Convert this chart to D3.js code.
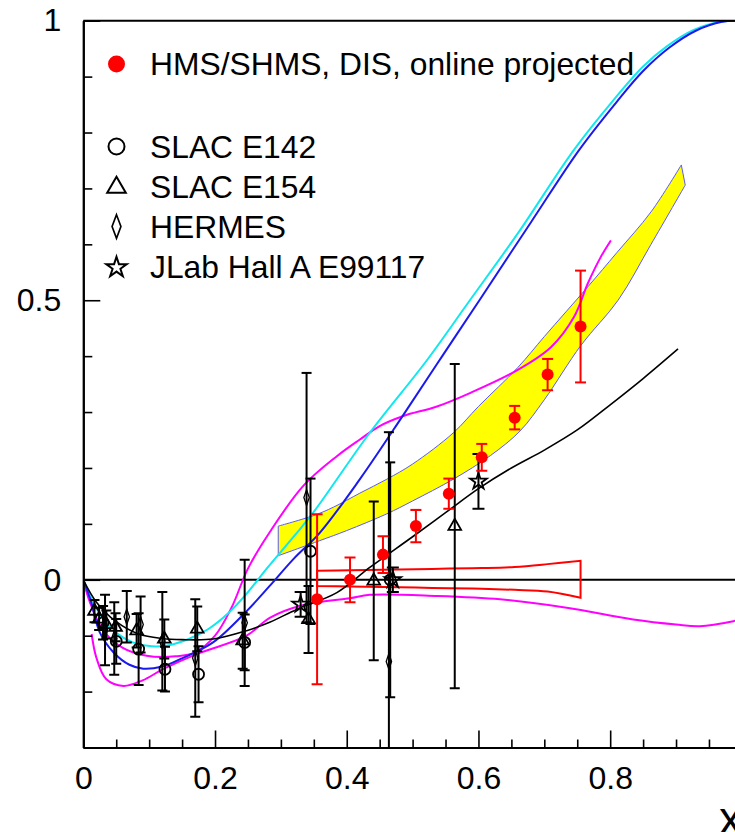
<!DOCTYPE html>
<html><head><meta charset="utf-8">
<script src="https://cdn.jsdelivr.net/npm/d3@7"></script>
<style>body{margin:0;background:#fff;overflow:hidden}svg{display:block}</style>
</head><body>
<svg id="c" width="735" height="832"></svg>
<script>
// ---------- data ----------
const xMajorTicks = [0, 0.2, 0.4, 0.6, 0.8];
const xMinorTicks = [0.05,0.1,0.15,0.25,0.3,0.35,0.45,0.5,0.55,0.65,0.7,0.75,0.85,0.9,0.95];
const yMajorTicks = [0, 0.5, 1];
const yMinorTicks = [-0.3,-0.2,-0.1,0.1,0.2,0.3,0.4,0.6,0.7,0.8,0.9];

// HMS/SHMS projected (red)
const redX   = [0.355,0.405,0.455,0.505,0.555,0.605,0.655,0.705,0.755];
const redY   = [-0.035,0.0,0.045,0.096,0.154,0.219,0.29,0.367,0.453];
const redErr = [0.152,0.04,0.033,0.029,0.027,0.024,0.021,0.028,0.1];
// systematic wedge around zero
const wedgeUp = [0.016,0.017,0.018,0.019,0.02,0.021,0.023,0.028,0.034];
const wedgeLo = [-0.011,-0.012,-0.013,-0.014,-0.015,-0.016,-0.018,-0.021,-0.032];

// SLAC E142 (open circles) [x, y, err]
const e142 = [[0.03,-0.077,0.03],[0.05,-0.11,0.04],[0.084,-0.124,0.064],[0.124,-0.16,0.04],
              [0.175,-0.169,0.05],[0.245,-0.112,0.05],[0.345,0.051,0.13],[0.466,0.0,0.21]];
// SLAC E154 (open triangles)
const e154 = [[0.017,-0.056,0.02],[0.024,-0.07,0.02],[0.035,-0.08,0.025],[0.049,-0.085,0.025],
              [0.081,-0.091,0.03],[0.123,-0.106,0.035],[0.173,-0.088,0.04],[0.242,-0.109,0.05],
              [0.342,-0.071,0.06],[0.441,-0.002,0.142],[0.564,0.096,0.29]];
// HERMES (open diamonds)
const hermes = [[0.033,-0.09,0.063],[0.047,-0.105,0.065],[0.066,-0.066,0.046],[0.087,-0.08,0.05],
                [0.12,-0.11,0.088],[0.17,-0.14,0.105],[0.245,-0.077,0.113],[0.339,0.147,0.223],[0.464,-0.146,0.41]];
// JLab Hall A E99117 (open stars)
const jlab = [[0.33,-0.044,0.022],[0.47,0.0,0.022],[0.6,0.176,0.049]];

// model curves [x, y]
const curveCyan = [[0,0],[0.015,-0.04],[0.03,-0.07],[0.05,-0.095],[0.075,-0.112],[0.104,-0.119],[0.13,-0.117],
  [0.16,-0.106],[0.19,-0.088],[0.22,-0.06],[0.25,-0.022],[0.28,0.022],[0.32,0.078],[0.349,0.12],[0.435,0.263],
  [0.52,0.39],[0.587,0.5],[0.66,0.62],[0.745,0.769],[0.805,0.858],[0.85,0.918],[0.886,0.954],[0.926,0.983],
  [0.967,0.998],[1.0,1.0]];
const curveBlue = [[0,0],[0.012,-0.04],[0.025,-0.094],[0.046,-0.13],[0.07,-0.152],[0.091,-0.159],[0.12,-0.155],
  [0.147,-0.142],[0.197,-0.112],[0.248,-0.056],[0.283,-0.011],[0.319,0.037],[0.359,0.084],[0.42,0.18],
  [0.486,0.295],[0.545,0.4],[0.602,0.501],[0.68,0.64],[0.753,0.769],[0.81,0.855],[0.85,0.91],[0.89,0.952],
  [0.93,0.982],[0.97,0.998],[1,1]];
const curveMagentaUp = [[0,0],[0.01,-0.04],[0.03,-0.09],[0.06,-0.122],[0.096,-0.136],[0.14,-0.137],[0.17,-0.13],
  [0.2,-0.1],[0.225,-0.05],[0.25,0.02],[0.283,0.085],[0.334,0.168],[0.385,0.221],[0.42,0.251],[0.45,0.275],
  [0.486,0.293],[0.537,0.31],[0.587,0.334],[0.659,0.375],[0.71,0.416],[0.745,0.47],[0.766,0.53],[0.786,0.578],[0.801,0.607]];
const curveMagentaLow = [[0.0127,-0.097],[0.02,-0.14],[0.035,-0.178],[0.061,-0.19],[0.09,-0.18],[0.121,-0.16],
  [0.172,-0.133],[0.248,-0.1],[0.283,-0.068],[0.334,-0.045],[0.405,-0.033],[0.435,-0.027],[0.537,-0.029],
  [0.633,-0.035],[0.734,-0.05],[0.835,-0.071],[0.9,-0.08],[0.936,-0.083],[0.987,-0.074],[1.0,-0.07]];
const curveBlack = [[0,0],[0.02,-0.04],[0.05,-0.075],[0.084,-0.097],[0.12,-0.105],[0.15,-0.107],[0.197,-0.106],
  [0.248,-0.091],[0.283,-0.076],[0.324,-0.053],[0.385,-0.023],[0.435,0.022],[0.5,0.077],[0.55,0.12],[0.6,0.163],
  [0.65,0.2],[0.7,0.232],[0.75,0.268],[0.8,0.313],[0.85,0.36],[0.903,0.413]];
// yellow band
const bandUpper = [[0.296,0.096],[0.35,0.115],[0.38,0.13],[0.42,0.155],[0.461,0.18],[0.5,0.207],[0.562,0.263],
  [0.6,0.31],[0.66,0.38],[0.7,0.435],[0.766,0.524],[0.81,0.585],[0.862,0.658],[0.908,0.742]];
const bandLower = [[0.296,0.043],[0.359,0.07],[0.4,0.088],[0.461,0.118],[0.5,0.141],[0.562,0.18],[0.618,0.222],
  [0.663,0.266],[0.7,0.322],[0.756,0.42],[0.812,0.5],[0.862,0.6],[0.914,0.706]];

const legendLabels = ["HMS/SHMS, DIS, online projected","SLAC E142","SLAC E154","HERMES","JLab Hall A E99117"];

// ---------- drawing ----------
const FONT = "'Liberation Sans', Arial, Helvetica, sans-serif";
const x = d3.scaleLinear().domain([0,1]).range([83.3,741.9]);
const y = d3.scaleLinear().domain([-0.3,1]).range([747.5,20.7]);
const svg = d3.select('#c');

svg.append('defs').append('clipPath').attr('id','plot')
  .append('rect').attr('x',x(0)).attr('y',y(1)).attr('width',x(1)-x(0)).attr('height',y(-0.3)-y(1));

const plot = svg.append('g').attr('clip-path','url(#plot)');
const smooth = d3.line().x(d=>x(d[0])).y(d=>y(d[1])).curve(d3.curveCatmullRom.alpha(0.5));

// band: smooth upper edge, straight right side, smooth lower edge back, straight left side
const upPath = smooth(bandUpper);
const loPath = smooth(bandLower.slice().reverse());
plot.append('path').attr('d', upPath + 'L' + loPath.slice(1) + 'Z')
  .attr('fill','#ffff00').attr('stroke','#5a5aff').attr('stroke-width',1);

// zero line
plot.append('line').attr('x1',x(0)).attr('x2',x(1)).attr('y1',y(0)).attr('y2',y(0))
  .attr('stroke','#000').attr('stroke-width',2);

// red wedge
const wUp = smooth(redX.map((v,i)=>[v,wedgeUp[i]]));
const wLo = smooth(redX.map((v,i)=>[v,wedgeLo[i]]).reverse());
plot.append('path').attr('d', wUp + 'L' + wLo.slice(1) + 'Z')
  .attr('fill','none').attr('stroke','#ff0000').attr('stroke-width',2);

// curves
[[curveMagentaLow,'#ff00ff',2],[curveMagentaUp,'#ff00ff',2],[curveCyan,'#10e8f0',2],[curveBlue,'#1a1aee',2],[curveBlack,'#000',1.6]]
 .forEach(([c,col,w])=>{
   plot.append('path').attr('d',smooth(c)).attr('fill','none').attr('stroke',col).attr('stroke-width',w);
 });

// error bars helper
function errBars(g, data, color, cap, w){
  const gg = g.append('g').attr('stroke',color).attr('stroke-width',w).attr('fill','none');
  data.forEach(([xv,yv,e])=>{
    const px = x(xv);
    gg.append('line').attr('x1',px).attr('x2',px).attr('y1',y(yv-e)).attr('y2',y(yv+e));
    gg.append('line').attr('x1',px-cap).attr('x2',px+cap).attr('y1',y(yv-e)).attr('y2',y(yv-e));
    gg.append('line').attr('x1',px-cap).attr('x2',px+cap).attr('y1',y(yv+e)).attr('y2',y(yv+e));
  });
}
const triPath = d3.symbol(d3.symbolTriangle, 70)();
const starPath = d3.symbol(d3.symbolStar, 85)();
const diaPath = d3.symbol(d3.symbolDiamond, 70)();

const black = plot.append('g');
errBars(black, e142, '#000', 5, 2);
errBars(black, e154, '#000', 5, 2);
errBars(black, hermes, '#000', 5, 2);
errBars(black, jlab, '#000', 6, 2);
black.selectAll('.c142').data(e142).join('circle').attr('cx',d=>x(d[0])).attr('cy',d=>y(d[1])).attr('r',5.5)
  .attr('fill','none').attr('stroke','#000').attr('stroke-width',1.8);
black.selectAll('.t154').data(e154).join('path').attr('d',triPath)
  .attr('transform',d=>`translate(${x(d[0])},${y(d[1])})`).attr('fill','none').attr('stroke','#000').attr('stroke-width',1.8);
black.selectAll('.dh').data(hermes).join('path').attr('d',diaPath)
  .attr('transform',d=>`translate(${x(d[0])},${y(d[1])}) scale(0.6,1)`).attr('fill','none').attr('stroke','#000').attr('stroke-width',2);
black.selectAll('.sj').data(jlab).join('path').attr('d',starPath)
  .attr('transform',d=>`translate(${x(d[0])},${y(d[1])})`).attr('fill','none').attr('stroke','#000').attr('stroke-width',1.8);

// red points
const redData = redX.map((v,i)=>[v,redY[i],redErr[i]]);
errBars(plot, redData, '#ff0000', 5.5, 2);
plot.selectAll('.rp').data(redData).join('circle').attr('cx',d=>x(d[0])).attr('cy',d=>y(d[1])).attr('r',6)
  .attr('fill','#ff0000');

// ---------- axes ----------
function styleAxis(g){
  g.select('.domain').attr('stroke','#000').attr('stroke-width',2);
  g.selectAll('.tick line').attr('stroke','#000').attr('stroke-width',1.6);
  g.selectAll('.tick text').attr('font-family',FONT).attr('font-size',32).attr('fill','#000');
}
svg.append('g').attr('transform',`translate(0,${y(-0.3)})`)
  .call(d3.axisBottom(x).tickValues(xMinorTicks).tickSizeInner(-8).tickSizeOuter(0).tickFormat(''))
  .call(styleAxis);
svg.append('g').attr('transform',`translate(0,${y(-0.3)})`)
  .call(d3.axisBottom(x).tickValues(xMajorTicks).tickSizeInner(-17).tickSizeOuter(0).tickPadding(19).tickFormat(d3.format('~g')))
  .call(styleAxis);
svg.append('g').attr('transform',`translate(${x(0)},0)`)
  .call(d3.axisLeft(y).tickValues(yMinorTicks).tickSizeInner(-9).tickSizeOuter(0).tickFormat(''))
  .call(styleAxis);
svg.append('g').attr('transform',`translate(${x(0)},0)`)
  .call(d3.axisLeft(y).tickValues(yMajorTicks).tickSizeInner(-17).tickSizeOuter(0).tickPadding(22).tickFormat(d3.format('~g')))
  .call(styleAxis);
// top frame
svg.append('line').attr('x1',x(0)).attr('x2',x(1)).attr('y1',y(1)).attr('y2',y(1)).attr('stroke','#000').attr('stroke-width',2);
svg.append('line').attr('x1',x(1)).attr('x2',x(1)).attr('y1',y(1)).attr('y2',y(-0.3)).attr('stroke','#000').attr('stroke-width',2);

// axis title
svg.append('text').attr('x',719).attr('y',834).attr('font-family',FONT).attr('font-size',46).text('x');

// ---------- legend ----------
const lg = svg.append('g').attr('font-family',FONT).attr('font-size',31.8).attr('fill','#000');
const legY = [64, 146.5, 186.5, 226.5, 266.5];
lg.append('circle').attr('cx',116.5).attr('cy',legY[0]).attr('r',8.5).attr('fill','#ff0000');
lg.append('circle').attr('cx',116.5).attr('cy',legY[1]).attr('r',8).attr('fill','none').attr('stroke','#000').attr('stroke-width',2);
lg.append('path').attr('d',d3.symbol(d3.symbolTriangle,150)()).attr('transform',`translate(116.5,${legY[2]+1})`)
  .attr('fill','none').attr('stroke','#000').attr('stroke-width',2);
lg.append('path').attr('d',d3.symbol(d3.symbolDiamond,160)()).attr('transform',`translate(116.5,${legY[3]}) scale(0.65,1)`)
  .attr('fill','none').attr('stroke','#000').attr('stroke-width',2.4);
lg.append('path').attr('d',d3.symbol(d3.symbolStar,130)()).attr('transform',`translate(116.5,${legY[4]+1})`)
  .attr('fill','none').attr('stroke','#000').attr('stroke-width',2);
legendLabels.forEach((t,i)=>{
  lg.append('text').attr('x',150).attr('y',legY[i]+11).text(t);
});
</script>
</body></html>
